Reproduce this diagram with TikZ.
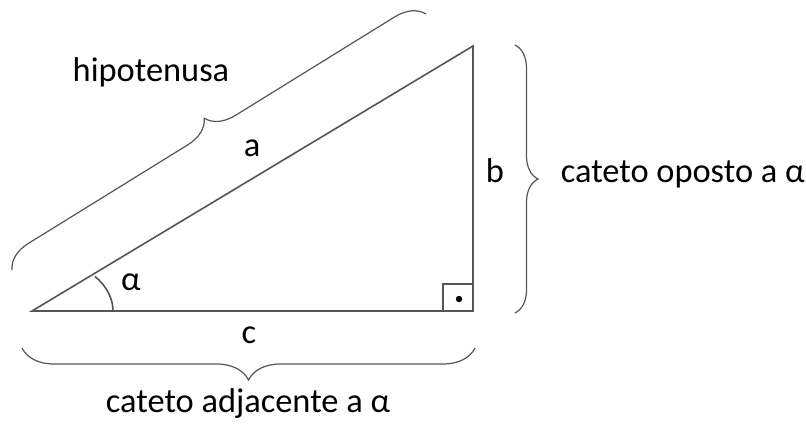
\documentclass[tikz,border=0pt]{standalone}
\usepackage{fontspec}
\setmainfont{Carlito}
\usetikzlibrary{decorations.pathreplacing}
\definecolor{cline}{HTML}{555555}
\tikzset{
  every picture/.style={line width=0.8pt},
  side/.style={draw=cline},
  curly/.style={draw=cline, line width=0.6pt, decorate, decoration={brace, amplitude=#1}},
  lbl/.style={font=\fontsize{17.2}{20}\selectfont, inner sep=0pt, anchor=base},
}
\begin{document}
\begin{tikzpicture}[x=0.5pt, y=-0.5pt]
  \useasboundingbox (0,0) rectangle (806,433);
  % triangle
  \coordinate (A) at (32,311);
  \coordinate (C) at (473,311);
  \coordinate (B) at (473,46);
  \draw[side] (A) -- (C) -- (B) -- cycle;
  % right angle mark
  \draw[side] (443,284) rectangle (C);
  \fill (459,299) circle (3.2);
  % angle alpha
  \draw[side] (113,311) arc[x radius=81, y radius=55, start angle=0, end angle=-39];
  % braces
  \coordinate (h1) at (12,270);
  \coordinate (h2) at (426,14);
  \draw[curly=14pt] (h1) -- (h2);
  \coordinate (v1) at (515,45);
  \coordinate (v2) at (515,313);
  \draw[curly=11.5pt] (v1) -- (v2);
  \coordinate (c1) at (475,348);
  \coordinate (c2) at (22,348);
  \draw[curly=16pt] (c1) -- (c2);
  % labels
  \node[lbl] (hyp) at (151,82) {hipotenusa};
  \node[lbl] (la) at (252,156) {a};
  \node[lbl] (lalpha) at (131,290) {α};
  \node[lbl] (lb) at (495,182) {b};
  \node[lbl, anchor=base west] (opp) at (560,182) {cateto oposto a α};
  \node[lbl] (lc) at (249,343) {c};
  \node[lbl] (adj) at (248,412) {cateto adjacente a α};
\end{tikzpicture}
\end{document}
